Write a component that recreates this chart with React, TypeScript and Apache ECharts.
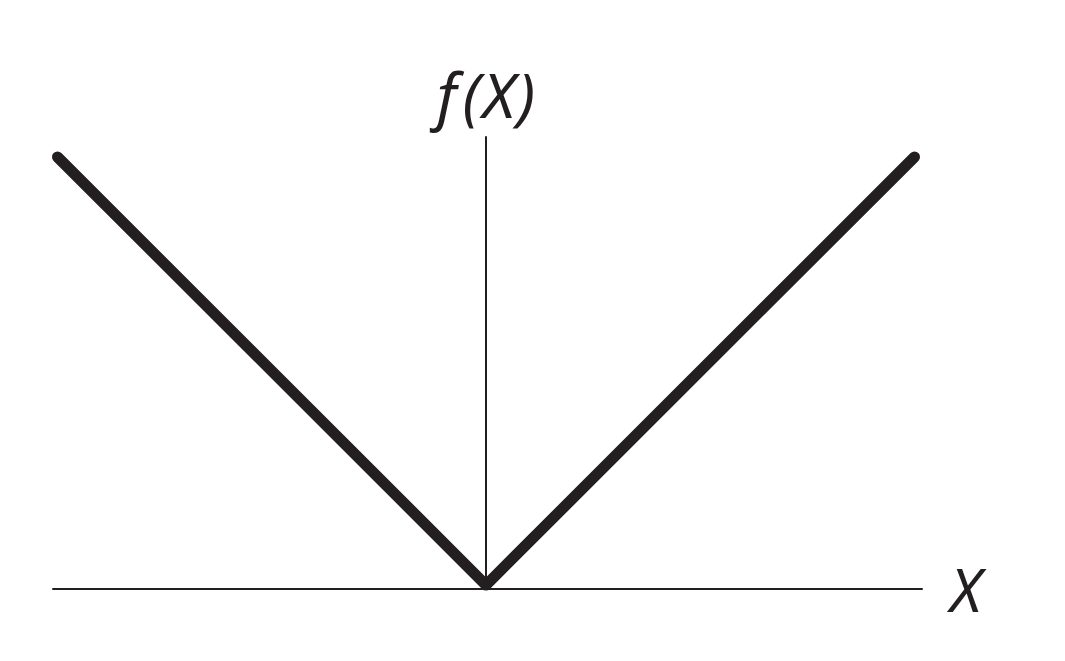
import React, { useEffect, useRef } from "react";
import * as echarts from "echarts";

const xValues: number[] = [-1, 0, 1];
const yValues: number[] = [1, 0, 1];
const xAxisName = "X";
const yAxisName = "{f|f}{p|(}{x|X}{q|)}";

export default function App() {
  const ref = useRef<HTMLDivElement>(null);
  useEffect(() => {
    document.body.style.margin = "0";
    const chart = echarts.init(ref.current!, null, { renderer: "svg" });
    const ink = "#231f20";
    const base = {
      fontFamily: "Noto Sans",
      fontStyle: "italic",
      fontSize: 62,
      color: ink,
    };
    chart.setOption({
      animation: false,
      backgroundColor: "#ffffff",
      grid: { left: 53, right: 143, top: 137, bottom: 72 },
      xAxis: {
        type: "value",
        min: -1.0105,
        max: 1.0175,
        name: xAxisName,
        nameLocation: "end",
        nameGap: 28,
        nameTextStyle: {
          fontFamily: "Noto Sans",
          fontStyle: "italic",
          fontSize: 60,
          color: ink,
          verticalAlign: "middle",
          padding: [0, 0, 8, 0],
        },
        axisLine: { onZero: false, lineStyle: { color: ink, width: 2 } },
        axisTick: { show: false },
        axisLabel: { show: false },
        splitLine: { show: false },
      },
      yAxis: {
        type: "value",
        min: -0.0093,
        max: 1.0467,
        name: yAxisName,
        nameLocation: "end",
        nameGap: 12,
        nameTextStyle: {
          ...base,
          align: "center",
          rich: {
            f: { ...base, padding: [0, 6, 0, 0] },
            p: { ...base, padding: [0, 2, 0, 0] },
            x: { ...base, padding: [0, 2, 0, 0] },
            q: { ...base },
          },
        },
        axisLine: { onZero: true, lineStyle: { color: ink, width: 2 } },
        axisTick: { show: false },
        axisLabel: { show: false },
        splitLine: { show: false },
      },
      series: [
        {
          type: "line",
          data: xValues.map((x, i) => [x, yValues[i]]),
          symbol: "none",
          lineStyle: { color: ink, width: 11, cap: "round", join: "round" },
          z: 1,
        },
      ],
    });
    return () => chart.dispose();
  }, []);
  return <div ref={ref} style={{ width: 1065, height: 661 }} />;
}
